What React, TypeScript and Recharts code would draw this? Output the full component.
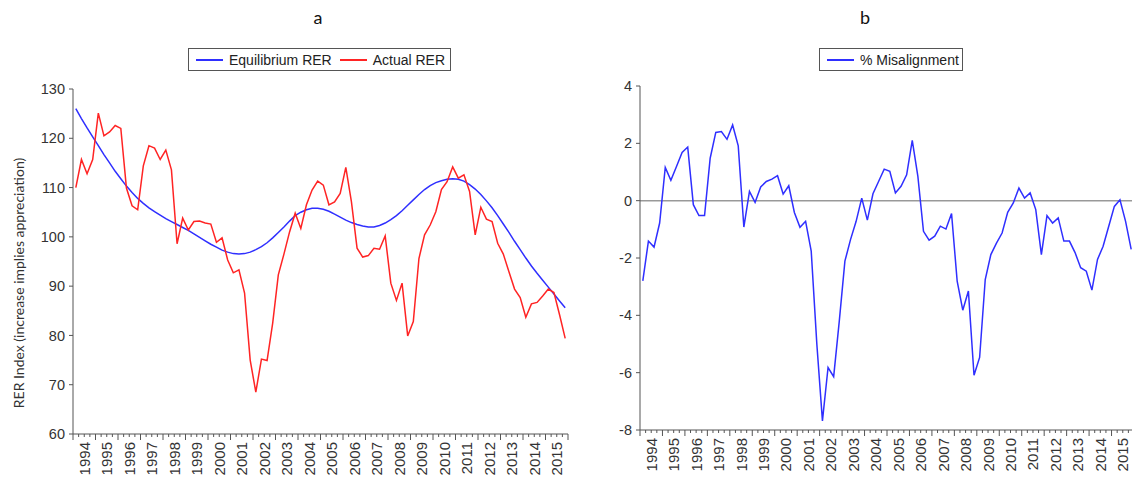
import React from "react";
import { LineChart, Line, XAxis, YAxis, ReferenceLine } from "recharts";

// Quarterly data, 1994Q1 – 2015Q4
const years = [1994, 1995, 1996, 1997, 1998, 1999, 2000, 2001, 2002, 2003, 2004, 2005, 2006, 2007, 2008, 2009, 2010, 2011, 2012, 2013, 2014, 2015];

const actualRER = [
  110.0, 115.7, 112.8, 115.7, 125.1, 120.5, 121.3, 122.6, 122.0, 109.9,
  106.3, 105.5, 114.4, 118.5, 118.0, 115.7, 117.6, 113.6, 98.6, 103.8,
  101.4, 103.1, 103.2, 102.8, 102.6, 98.9, 99.8, 95.3, 92.7, 93.3,
  88.6, 75.0, 68.5, 75.2, 74.9, 82.5, 92.3, 96.5, 101.0, 104.8,
  101.7, 106.5, 109.5, 111.3, 110.5, 106.5, 107.1, 108.8, 114.1, 107.1,
  97.7, 95.9, 96.2, 97.7, 97.5, 100.2, 90.6, 87.1, 90.6, 79.9,
  82.8, 95.6, 100.4, 102.4, 105.1, 109.6, 111.2, 114.2, 111.9, 112.6,
  109.2, 100.4, 106.0, 103.6, 103.1, 98.7, 96.5, 92.9, 89.4, 87.7,
  83.7, 86.4, 86.7, 88.0, 89.4, 88.7, 84.2, 79.4,
];

const equilibriumRER = [
  126.0, 124.0, 122.1, 120.3, 118.5, 116.7, 115.0, 113.3, 111.8, 110.3,
  109.0, 107.8, 106.8, 105.9, 105.1, 104.4, 103.7, 103.1, 102.5, 101.9,
  101.3, 100.6, 99.9, 99.2, 98.5, 97.9, 97.3, 96.9, 96.6, 96.5,
  96.6, 96.9, 97.4, 98.0, 98.8, 99.8, 100.9, 102.0, 103.2, 104.3,
  105.0, 105.5, 105.8, 105.8, 105.6, 105.2, 104.6, 104.0, 103.4, 102.9,
  102.5, 102.2, 102.0, 102.0, 102.3, 102.8, 103.5, 104.3, 105.3, 106.4,
  107.5, 108.6, 109.6, 110.4, 111.0, 111.4, 111.7, 111.8, 111.7, 111.3,
  110.6, 109.7, 108.6, 107.3, 105.9, 104.3, 102.6, 100.9, 99.1, 97.4,
  95.7, 94.1, 92.6, 91.2, 89.8, 88.4, 87.0, 85.6,
];

const misalignment = [
  -2.8, -1.41, -1.62, -0.78, 1.16, 0.71, 1.19, 1.68, 1.87, -0.14,
  -0.52, -0.52, 1.48, 2.38, 2.41, 2.14, 2.64, 1.91, -0.92, 0.32,
  -0.06, 0.48, 0.67, 0.75, 0.87, 0.23, 0.52, -0.41, -0.93, -0.72,
  -1.76, -5.0, -7.68, -5.82, -6.14, -4.2, -2.11, -1.36, -0.72, 0.09,
  -0.68, 0.24, 0.67, 1.1, 1.02, 0.27, 0.5, 0.9, 2.1, 0.85,
  -1.07, -1.38, -1.24, -0.89, -0.99, -0.45, -2.81, -3.82, -3.15, -6.09,
  -5.47, -2.75, -1.88, -1.48, -1.13, -0.41, -0.08, 0.44, 0.09, 0.27,
  -0.31, -1.88, -0.52, -0.78, -0.6, -1.41, -1.41, -1.81, -2.34, -2.46,
  -3.12, -2.05, -1.59, -0.89, -0.2, 0.03, -0.72, -1.7,
];

const leftYTicks = [60, 70, 80, 90, 100, 110, 120, 130];
const rightYTicks = [-8, -6, -4, -2, 0, 2, 4];

const quarterTicks = Array.from({ length: years.length * 4 + 1 }, (_, i) => i);

const dataA = actualRER.map((v, i) => ({ q: i + 0.5, actual: v, equilibrium: equilibriumRER[i] }));
const dataB = misalignment.map((v, i) => ({ q: i + 0.5, mis: v }));

const BLUE = "#2f2fff";
const RED = "#ff2424";
const AXIS = "#555";
const FRAME = "#999";
const TICKFONT = "'Liberation Sans', Arial, sans-serif";

const XTick = (props: any) => {
  const { x, y, payload } = props;
  const v = payload.value as number;
  const major = v % 4 === 0;
  const label = v % 4 === 2 ? years[(v - 2) / 4] : null;
  const ly = y + 8;
  return (
    <g>
      <line x1={x} y1={y} x2={x} y2={y + (major ? 6 : 3)} stroke={AXIS} strokeWidth={1} />
      {label !== null && (
        <text
          x={x}
          y={ly}
          transform={`rotate(-90 ${x} ${ly})`}
          textAnchor="end"
          dominantBaseline="central"
          fontSize={15}
          fontFamily={TICKFONT}
          fill="#333"
        >
          {label}
        </text>
      )}
    </g>
  );
};

const yTickStyle = { fontSize: 14.5, fontFamily: TICKFONT, fill: "#333" };

const LegendBox = ({ left, top, width, items }: any) => (
  <div
    style={{
      position: "absolute",
      left,
      top,
      width,
      height: 23,
      border: "1px solid #555",
      boxSizing: "border-box",
      display: "flex",
      alignItems: "center",
      paddingLeft: 7,
      fontFamily: TICKFONT,
      fontSize: 14,
      color: "#222",
      whiteSpace: "nowrap",
    }}
  >
    {items.map((it: any, k: number) => (
      <span key={k} style={{ display: "flex", alignItems: "center", marginRight: 8 }}>
        <span style={{ display: "inline-block", width: 27, height: 0, borderTop: `2px solid ${it.color}`, marginRight: 6 }} />
        <span>{it.label}</span>
      </span>
    ))}
  </div>
);

export default function App() {
  return (
    <div
      style={{
        position: "absolute",
        left: 0,
        top: 0,
        width: 1132,
        height: 484,
        overflow: "hidden",
        background: "#fff",
      }}
    >
      <div style={{ position: "absolute", left: 300, width: 36, top: 6, textAlign: "center", fontFamily: "Lato, sans-serif", fontSize: 18, color: "#111" }}>a</div>
      <div style={{ position: "absolute", left: 847, width: 36, top: 6, textAlign: "center", fontFamily: "Lato, sans-serif", fontSize: 18, color: "#111" }}>b</div>

      <LegendBox
        left={188}
        top={48}
        width={263}
        items={[
          { label: "Equilibrium RER", color: BLUE },
          { label: "Actual RER", color: RED },
        ]}
      />
      <LegendBox left={819} top={48} width={144} items={[{ label: "% Misalignment", color: BLUE }]} />

      <div
        style={{
          position: "absolute",
          left: 18,
          top: 283,
          transform: "translate(-50%, -50%) rotate(-90deg)",
          fontFamily: "Lato, sans-serif",
          fontSize: 14,
          color: "#333",
          whiteSpace: "nowrap",
        }}
      >
        RER Index (increase implies appreciation)
      </div>

      <div style={{ position: "absolute", left: 0, top: 0 }}>
        <LineChart width={580} height={484} data={dataA} margin={{ top: 89, right: 12, left: 0, bottom: 0 }}>
          <XAxis
            dataKey="q"
            type="number"
            domain={[0, 88]}
            ticks={quarterTicks}
            interval={0}
            tick={<XTick />}
            tickLine={false}
            tickSize={0}
            tickMargin={0}
            height={50}
            axisLine={{ stroke: AXIS }}
            allowDataOverflow
          />
          <XAxis xAxisId="top" orientation="top" type="number" domain={[0, 88]} height={0} tick={false} tickLine={false} axisLine={{ stroke: FRAME, strokeWidth: 1.5 }} />
          <YAxis
            type="number"
            domain={[60, 130]}
            ticks={leftYTicks}
            interval={0}
            width={73}
            tick={yTickStyle}
            tickSize={4}
            tickMargin={4}
            tickLine={{ stroke: AXIS }}
            axisLine={{ stroke: AXIS }}
            allowDataOverflow
          />
          <YAxis yAxisId="right" orientation="right" type="number" domain={[60, 130]} width={0} tick={false} tickLine={false} axisLine={{ stroke: FRAME, strokeWidth: 1.5 }} />
          <Line type="linear" dataKey="equilibrium" stroke={BLUE} strokeWidth={1.5} dot={false} isAnimationActive={false} />
          <Line type="linear" dataKey="actual" stroke={RED} strokeWidth={1.5} dot={false} isAnimationActive={false} />
        </LineChart>
      </div>

      <div style={{ position: "absolute", left: 580, top: 0 }}>
        <LineChart width={560} height={484} data={dataB} margin={{ top: 86, right: 6, left: 0, bottom: 0 }}>
          <XAxis
            dataKey="q"
            type="number"
            domain={[0, 88]}
            ticks={quarterTicks}
            interval={0}
            tick={<XTick />}
            tickLine={false}
            tickSize={0}
            tickMargin={0}
            height={54}
            axisLine={{ stroke: AXIS }}
            allowDataOverflow
          />
          <XAxis xAxisId="top" orientation="top" type="number" domain={[0, 88]} height={0} tick={false} tickLine={false} axisLine={{ stroke: FRAME, strokeWidth: 1.5 }} />
          <YAxis
            type="number"
            domain={[-8, 4]}
            ticks={rightYTicks}
            interval={0}
            width={60}
            tick={yTickStyle}
            tickSize={4}
            tickMargin={4}
            tickLine={{ stroke: AXIS }}
            axisLine={{ stroke: AXIS }}
            allowDataOverflow
          />
          <ReferenceLine y={0} stroke={FRAME} strokeWidth={1.5} />
          <Line type="linear" dataKey="mis" stroke={BLUE} strokeWidth={1.5} dot={false} isAnimationActive={false} />
        </LineChart>
      </div>
    </div>
  );
}
